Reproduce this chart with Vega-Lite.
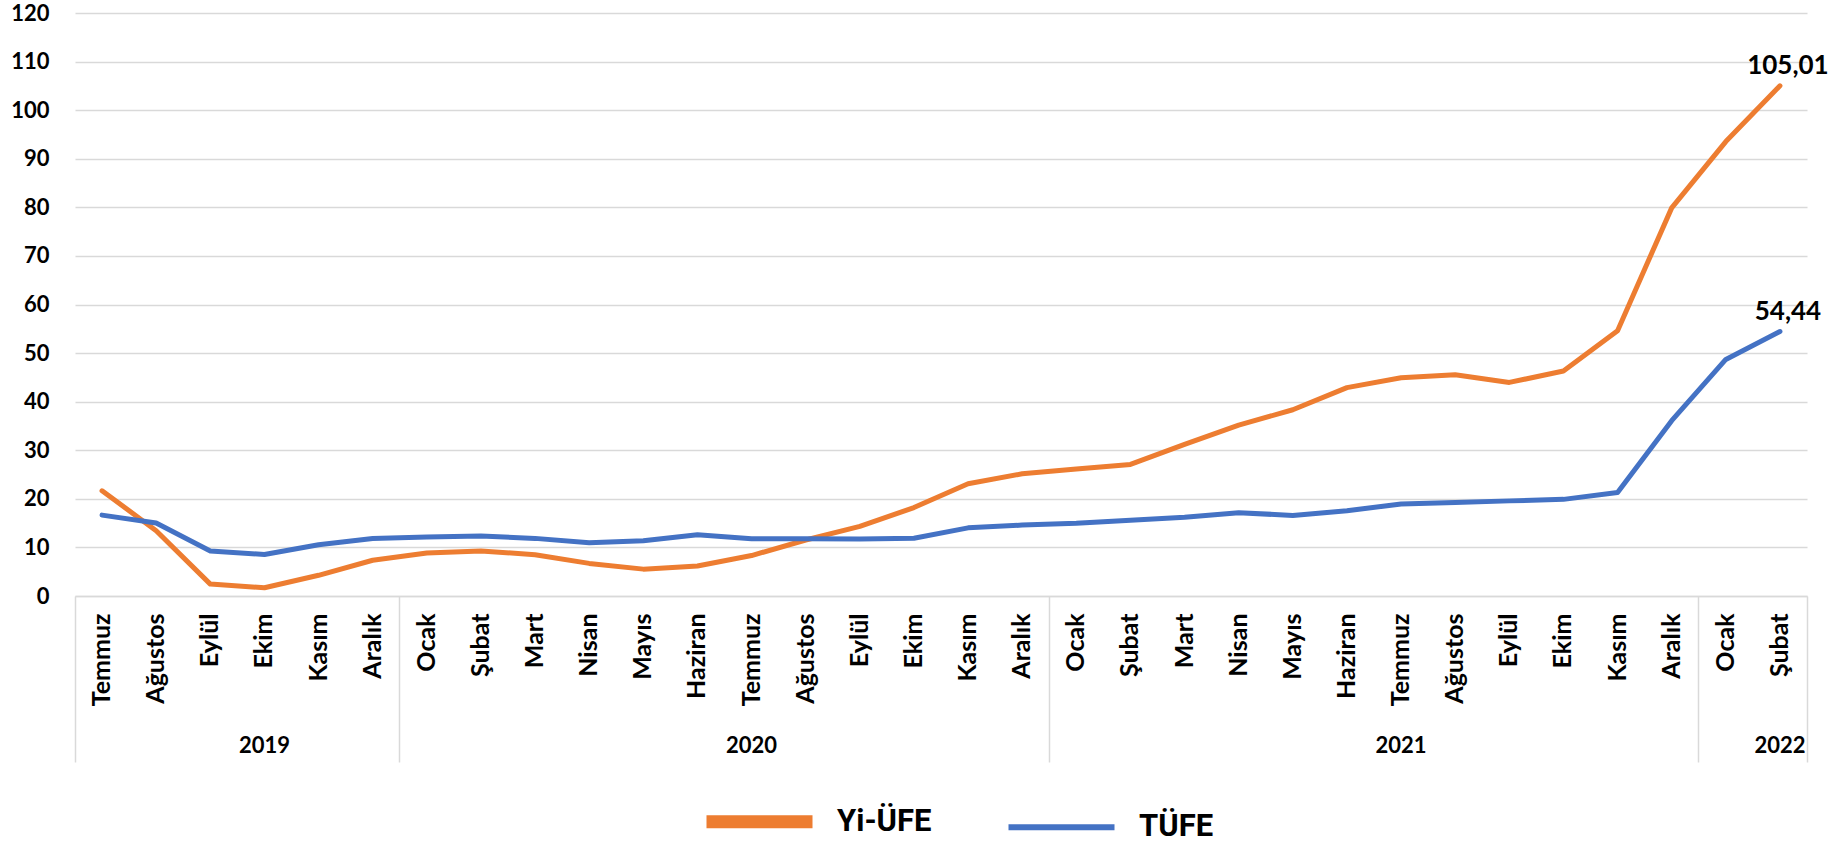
{
  "$schema": "https://vega.github.io/schema/vega-lite/v6.json",
  "width": 1732,
  "height": 583,
  "autosize": {"type": "none"},
  "padding": {"left": 75, "top": 13, "right": 21, "bottom": 248},
  "background": "white",
  "config": {
    "font": "Lato",
    "view": {"stroke": null},
    "locale": {"number": {"decimal": ",", "thousands": ".", "grouping": [3], "currency": ["", " ₺"]}}
  },
  "data": {"values": [
    {"key": "Temmuz 2019", "series": "Yi-ÜFE", "value": 21.66},
    {"key": "Ağustos 2019", "series": "Yi-ÜFE", "value": 13.45},
    {"key": "Eylül 2019", "series": "Yi-ÜFE", "value": 2.45},
    {"key": "Ekim 2019", "series": "Yi-ÜFE", "value": 1.70},
    {"key": "Kasım 2019", "series": "Yi-ÜFE", "value": 4.26},
    {"key": "Aralık 2019", "series": "Yi-ÜFE", "value": 7.36},
    {"key": "Ocak 2020", "series": "Yi-ÜFE", "value": 8.84},
    {"key": "Şubat 2020", "series": "Yi-ÜFE", "value": 9.26},
    {"key": "Mart 2020", "series": "Yi-ÜFE", "value": 8.50},
    {"key": "Nisan 2020", "series": "Yi-ÜFE", "value": 6.71},
    {"key": "Mayıs 2020", "series": "Yi-ÜFE", "value": 5.53},
    {"key": "Haziran 2020", "series": "Yi-ÜFE", "value": 6.17},
    {"key": "Temmuz 2020", "series": "Yi-ÜFE", "value": 8.33},
    {"key": "Ağustos 2020", "series": "Yi-ÜFE", "value": 11.53},
    {"key": "Eylül 2020", "series": "Yi-ÜFE", "value": 14.33},
    {"key": "Ekim 2020", "series": "Yi-ÜFE", "value": 18.20},
    {"key": "Kasım 2020", "series": "Yi-ÜFE", "value": 23.11},
    {"key": "Aralık 2020", "series": "Yi-ÜFE", "value": 25.15},
    {"key": "Ocak 2021", "series": "Yi-ÜFE", "value": 26.16},
    {"key": "Şubat 2021", "series": "Yi-ÜFE", "value": 27.09},
    {"key": "Mart 2021", "series": "Yi-ÜFE", "value": 31.20},
    {"key": "Nisan 2021", "series": "Yi-ÜFE", "value": 35.17},
    {"key": "Mayıs 2021", "series": "Yi-ÜFE", "value": 38.33},
    {"key": "Haziran 2021", "series": "Yi-ÜFE", "value": 42.89},
    {"key": "Temmuz 2021", "series": "Yi-ÜFE", "value": 44.92},
    {"key": "Ağustos 2021", "series": "Yi-ÜFE", "value": 45.52},
    {"key": "Eylül 2021", "series": "Yi-ÜFE", "value": 43.96},
    {"key": "Ekim 2021", "series": "Yi-ÜFE", "value": 46.31},
    {"key": "Kasım 2021", "series": "Yi-ÜFE", "value": 54.62},
    {"key": "Aralık 2021", "series": "Yi-ÜFE", "value": 79.89},
    {"key": "Ocak 2022", "series": "Yi-ÜFE", "value": 93.53},
    {"key": "Şubat 2022", "series": "Yi-ÜFE", "value": 105.01},
    {"key": "Temmuz 2019", "series": "TÜFE", "value": 16.65},
    {"key": "Ağustos 2019", "series": "TÜFE", "value": 15.01},
    {"key": "Eylül 2019", "series": "TÜFE", "value": 9.26},
    {"key": "Ekim 2019", "series": "TÜFE", "value": 8.55},
    {"key": "Kasım 2019", "series": "TÜFE", "value": 10.56},
    {"key": "Aralık 2019", "series": "TÜFE", "value": 11.84},
    {"key": "Ocak 2020", "series": "TÜFE", "value": 12.15},
    {"key": "Şubat 2020", "series": "TÜFE", "value": 12.37},
    {"key": "Mart 2020", "series": "TÜFE", "value": 11.86},
    {"key": "Nisan 2020", "series": "TÜFE", "value": 10.94},
    {"key": "Mayıs 2020", "series": "TÜFE", "value": 11.39},
    {"key": "Haziran 2020", "series": "TÜFE", "value": 12.62},
    {"key": "Temmuz 2020", "series": "TÜFE", "value": 11.76},
    {"key": "Ağustos 2020", "series": "TÜFE", "value": 11.77},
    {"key": "Eylül 2020", "series": "TÜFE", "value": 11.75},
    {"key": "Ekim 2020", "series": "TÜFE", "value": 11.89},
    {"key": "Kasım 2020", "series": "TÜFE", "value": 14.03},
    {"key": "Aralık 2020", "series": "TÜFE", "value": 14.60},
    {"key": "Ocak 2021", "series": "TÜFE", "value": 14.97},
    {"key": "Şubat 2021", "series": "TÜFE", "value": 15.61},
    {"key": "Mart 2021", "series": "TÜFE", "value": 16.19},
    {"key": "Nisan 2021", "series": "TÜFE", "value": 17.14},
    {"key": "Mayıs 2021", "series": "TÜFE", "value": 16.59},
    {"key": "Haziran 2021", "series": "TÜFE", "value": 17.53},
    {"key": "Temmuz 2021", "series": "TÜFE", "value": 18.95},
    {"key": "Ağustos 2021", "series": "TÜFE", "value": 19.25},
    {"key": "Eylül 2021", "series": "TÜFE", "value": 19.58},
    {"key": "Ekim 2021", "series": "TÜFE", "value": 19.89},
    {"key": "Kasım 2021", "series": "TÜFE", "value": 21.31},
    {"key": "Aralık 2021", "series": "TÜFE", "value": 36.08},
    {"key": "Ocak 2022", "series": "TÜFE", "value": 48.69},
    {"key": "Şubat 2022", "series": "TÜFE", "value": 54.44}
  ]},
  "resolve": {"axis": {"x": "independent"}},
  "layer": [
    {
      "mark": {"type": "line", "strokeWidth": 5, "strokeCap": "round", "strokeJoin": "round"},
      "encoding": {
        "x": {
          "field": "key", "type": "nominal", "sort": null,
          "scale": {"type": "band", "paddingInner": 0, "paddingOuter": 0},
          "axis": {
            "orient": "bottom", "title": null, "ticks": false, "grid": false,
            "domain": true, "domainColor": "#d9d9d9", "domainWidth": 1.5,
            "labelAngle": -90, "labelPadding": 17, "labelFont": "Lato", "labelFontSize": 25,
            "labelFontWeight": "bold", "labelColor": "#000000",
            "labelExpr": "split(datum.label, ' ')[0]", "labelOverlap": false
          }
        },
        "y": {
          "field": "value", "type": "quantitative",
          "scale": {"domain": [0, 120], "nice": false, "zero": true},
          "axis": {
            "title": null, "values": [0, 10, 20, 30, 40, 50, 60, 70, 80, 90, 100, 110, 120],
            "domain": false, "ticks": false, "grid": true, "gridColor": "#d9d9d9", "gridWidth": 1.5,
            "labelPadding": 26, "labelFont": "Lato", "labelFontSize": 22, "labelFontWeight": "bold",
            "labelColor": "#000000"
          }
        },
        "color": {
          "field": "series", "type": "nominal",
          "scale": {"domain": ["Yi-ÜFE", "TÜFE"], "range": ["#ED7D31", "#4472C4"]},
          "legend": {
            "title": null, "orient": "none", "legendX": 669, "legendY": 793,
            "direction": "horizontal", "symbolType": "stroke", "symbolSize": 11236,
            "symbolStrokeWidth": 10, "labelFont": "Roboto", "labelFontSize": 31,
            "labelFontWeight": "bold", "labelColor": "#000000", "labelOffset": 62, "columnPadding": 64,
            "labelLimit": 300,
            "encode": {"symbols": {"update": {"strokeWidth": {"signal": "datum.value === 'Yi-ÜFE' ? 13 : 6"}}}}
          }
        }
      }
    },
    {
      "mark": {"type": "text", "align": "center", "baseline": "alphabetic", "dx": 8, "dy": -12,
               "font": "Lato", "fontSize": 26, "fontWeight": "bold", "color": "#000000"},
      "encoding": {
        "x": {"field": "key", "type": "nominal", "sort": null,
              "scale": {"type": "band", "paddingInner": 0, "paddingOuter": 0}, "axis": null},
        "y": {"field": "value", "type": "quantitative"},
        "text": {
          "condition": {"test": "datum.key === 'Şubat 2022'", "field": "value", "type": "quantitative", "format": ".2f"},
          "value": ""
        }
      }
    },
    {
      "mark": {"type": "point", "opacity": 0},
      "encoding": {
        "x": {
          "field": "key", "type": "nominal", "sort": null,
          "scale": {"type": "band", "paddingInner": 0, "paddingOuter": 0},
          "axis": {
            "orient": "bottom", "title": null, "values": ["Ekim 2019", "Temmuz 2020", "Temmuz 2021", "Şubat 2022"],
            "bandPosition": 0, "ticks": false, "domain": false, "grid": false,
            "labelAngle": 0, "labelAlign": "center", "labelBaseline": "middle", "labelPadding": 149,
            "labelFont": "Lato", "labelFontSize": 22, "labelFontWeight": "bold", "labelColor": "#000000",
            "labelExpr": "split(datum.label, ' ')[1]", "labelOverlap": false
          }
        }
      }
    },
    {
      "mark": {"type": "point", "opacity": 0},
      "encoding": {
        "x": {
          "field": "key", "type": "nominal", "sort": null,
          "scale": {"type": "band", "paddingInner": 0, "paddingOuter": 0},
          "axis": {
            "orient": "bottom", "title": null, "values": ["Temmuz 2019", "Ocak 2020", "Ocak 2021", "Ocak 2022"],
            "bandPosition": 0, "ticks": true, "tickSize": 166, "tickColor": "#d9d9d9", "tickWidth": 1.5,
            "labels": false, "domain": false, "grid": false
          }
        }
      }
    },
    {
      "mark": {"type": "point", "opacity": 0},
      "encoding": {
        "x": {
          "field": "key", "type": "nominal", "sort": null,
          "scale": {"type": "band", "paddingInner": 0, "paddingOuter": 0},
          "axis": {
            "orient": "bottom", "title": null, "values": ["Şubat 2022"],
            "bandPosition": 1, "ticks": true, "tickSize": 166, "tickColor": "#d9d9d9", "tickWidth": 1.5,
            "labels": false, "domain": false, "grid": false
          }
        }
      }
    }
  ]
}
